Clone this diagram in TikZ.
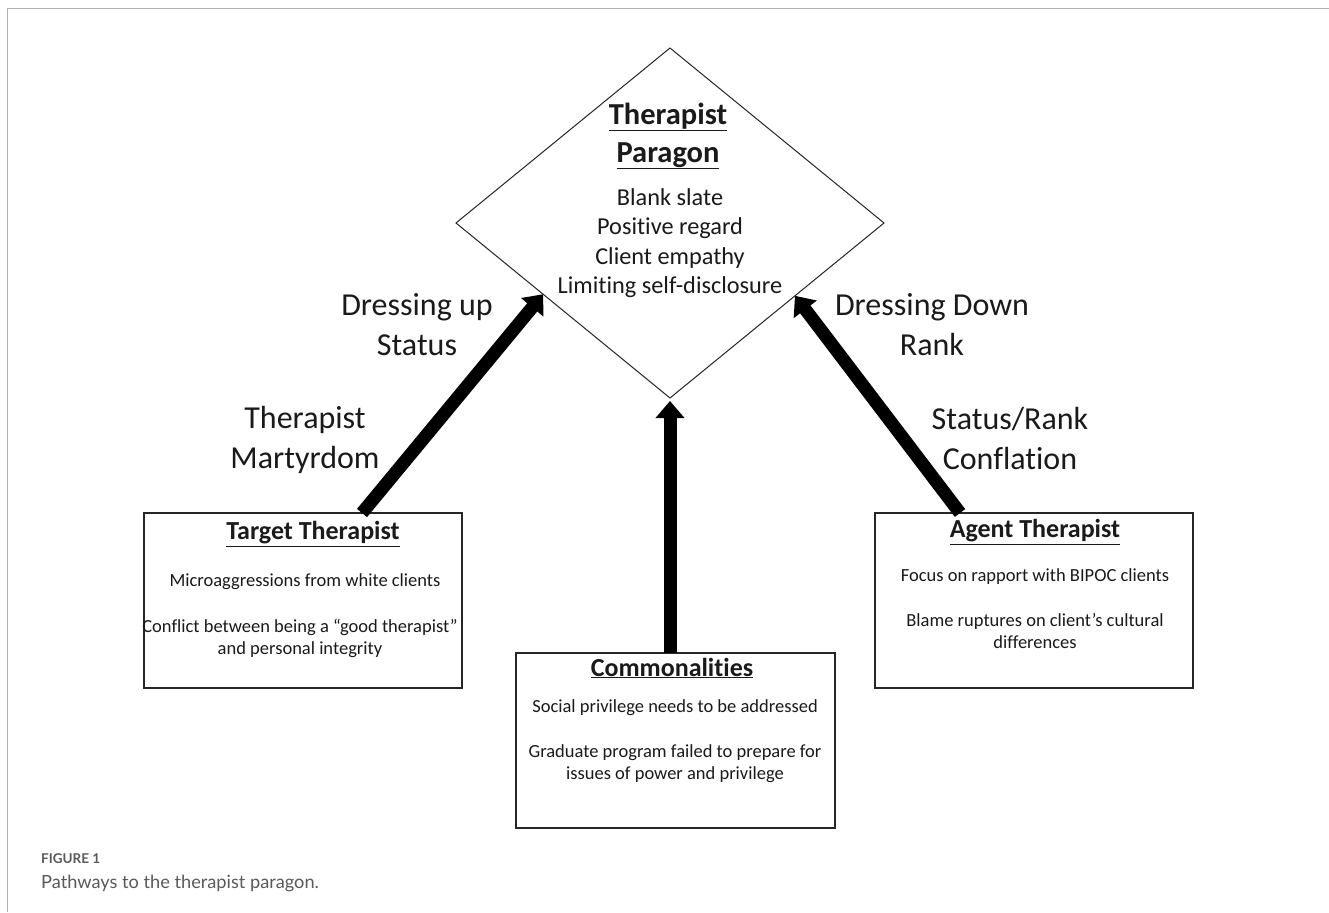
\documentclass[tikz,border=0pt]{standalone}
\usepackage{fontspec}
\setmainfont[Ligatures=NoCommon]{Carlito}
\newfontfamily\capfont{Lato}
\usetikzlibrary{shapes.geometric,arrows.meta,calc}
\definecolor{ink}{HTML}{1A1A1A}
\definecolor{framegray}{HTML}{B0B0B0}
\definecolor{capgray}{HTML}{5A5A5A}
\begin{document}
\begin{tikzpicture}[x=1pt,y=-1pt,
  every node/.style={text=ink},
  box/.style={draw=black!85,line width=1.4pt,minimum width=318pt,minimum height=175pt,inner sep=0pt,outer sep=0pt},
  ttl/.style={font=\fontsize{26}{31}\selectfont\bfseries,inner sep=0pt},
  body/.style={font=\fontsize{18.5}{22}\selectfont,align=center,inner sep=0pt},
  lbl/.style={font=\fontsize{32}{40}\selectfont,align=center,inner sep=0pt},
  fat/.style={draw=black,line width=13pt,-{Triangle[length=17pt,width=28pt]}},
  paragonshape/.style={draw=black!85,line width=1pt,shape=diamond,minimum width=428pt,minimum height=350pt,inner sep=0pt,outer sep=0pt}
]
\useasboundingbox (0,0) rectangle (1329,912);
\fill[white] (0,0) rectangle (1329,912);
% frame
\draw[framegray,line width=1.6pt] (7.5,912) -- (7.5,8.5) -- (1329,8.5);

% diamond
\node[paragonshape] (par) at (670,223) {};
\node[font=\fontsize{30.5}{38}\selectfont\bfseries,align=center,inner sep=0pt] (partitle) at (668,136) {\underline{Therapist}\\\underline{Paragon}};
\node[font=\fontsize{24.3}{29.5}\selectfont,align=center,inner sep=0pt] (parbody) at (670,243) {Blank slate\\Positive regard\\Client empathy\\Limiting self-disclosure};

% boxes
\node[box] (tbox) at (303,600.5) {};
\node[ttl] (tt1) at (313,534) {\underline{Target Therapist}};
\node[body] (tt2) at (305,582) {Microaggressions from white clients};
\node[body] (tt3) at (300,638) {Conflict between being a “good therapist”\\and personal integrity};

\node[box,minimum width=319pt] (cbox) at (675.5,740.5) {};
\node[ttl] (ct1) at (672,668) {\underline{Commonalities}};
\node[body] (ct2) at (675,708) {Social privilege needs to be addressed};
\node[body] (ct3) at (675,763.5) {Graduate program failed to prepare for\\issues of power and privilege};

\node[box] (abox) at (1034,600.5) {};
\node[ttl] (at1) at (1035,532) {\underline{Agent Therapist}};
\node[body] (at2) at (1035,577) {Focus on rapport with BIPOC clients};
\node[body] (at3) at (1035,631) {Blame ruptures on client’s cultural\\differences};

% arrow end points
\coordinate (ltip) at ($(par.west)!0.407!(par.south)$);
\coordinate (rtip) at ($(par.east)!0.416!(par.south)$);
\draw[fat] ([xshift=59pt]tbox.north) -- (ltip);
\draw[fat] ([xshift=-74pt]abox.north) -- (rtip);
\draw[fat] (cbox.north -| par.south) -- ([yshift=-3pt]par.south);

% labels
\node[lbl] (l1) at (417,325) {Dressing up\\Status};
\node[lbl] (l2) at (305,440) {Therapist\\Martyrdom};
\node[lbl] (l3) at (932,325) {Dressing Down\\Rank};
\node[lbl] (l4) at (1010,439) {Status/Rank\\Conflation};

% caption
\node[anchor=west,inner sep=0pt,text=capgray,font=\capfont\bfseries\fontsize{13.5}{15}\selectfont] (fig) at (41,859) {FIGURE 1};
\node[anchor=west,inner sep=0pt,text=capgray,font=\capfont\fontsize{18.2}{21}\selectfont] (cap) at (41,883) {Pathways to the therapist paragon.};
\end{tikzpicture}
\end{document}
